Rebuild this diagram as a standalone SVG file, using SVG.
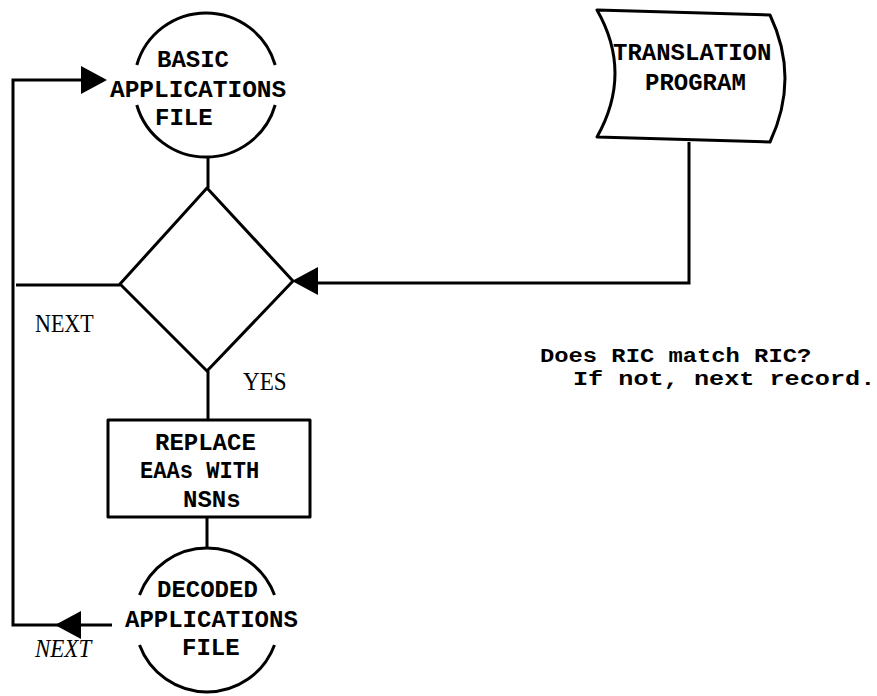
<svg xmlns="http://www.w3.org/2000/svg" width="877" height="696" viewBox="0 0 877 696">
<style>
  .shape { fill: none; stroke: #000; stroke-width: 3; stroke-linejoin: round; }
  .conn { fill: none; stroke: #000; stroke-width: 3; }
  .head { fill: #000; stroke: none; }
  .mono { font-family: "Liberation Mono", "Courier New", monospace; font-size: 24px; font-weight: bold; fill: #000; }
  .note { font-family: "Liberation Mono", "Courier New", monospace; font-size: 20px; font-weight: bold; fill: #000; }
  .serif { font-family: "Liberation Serif", "Times New Roman", serif; font-size: 22px; fill: #000; }
  .ital { font-family: "Liberation Serif", "Times New Roman", serif; font-size: 23px; font-style: italic; fill: #000; }
</style>
<defs>
  <path id="ah" d="M0,0 L-26,-14 L-26,14 Z"/>
</defs>
<rect width="877" height="696" fill="#fff"/>

<g id="connectors">
  <path class="conn" d="M112,625 H13 V80 H95"/>
  <use href="#ah" class="head" transform="translate(107,80)"/>
  <use href="#ah" class="head" transform="translate(55,625) rotate(180)"/>
  <path class="conn" d="M120,285 H16"/>
  <path class="conn" d="M208,157 V188"/>
  <path class="conn" d="M208,371 V420"/>
  <path class="conn" d="M207,517 V548"/>
  <path class="conn" d="M689,142 V283 H300"/>
  <use href="#ah" class="head" transform="translate(292,281) rotate(180)"/>
</g>

<g id="basic-applications-file">
  <path class="shape" d="M136.8,65 A72,72 0 0 1 275.2,65 M275.2,105 A72,72 0 0 1 136.8,105"/>
  <text class="mono" x="157" y="67">BASIC</text>
  <text class="mono" transform="translate(110,97) scale(1.02,1)">APPLICATIONS</text>
  <text class="mono" x="155" y="125">FILE</text>
</g>

<g id="translation-program">
  <path class="shape" d="M597,10 L770,15 Q800,78 770,142 L597,137 Q633,73 597,10 Z"/>
  <text class="mono" x="613" y="60">TRANSLATION</text>
  <text class="mono" x="645" y="90">PROGRAM</text>
</g>

<g id="decision">
  <path class="shape" d="M207,188 L293,281 L207,371 L120,284 Z"/>
  <text class="serif" transform="translate(35,332) scale(1,1.12)">NEXT</text>
  <text class="serif" transform="translate(243,390) scale(1.05,1.12)">YES</text>
</g>

<g id="note">
  <text class="note" transform="translate(540,362) scale(1.19,1)">Does RIC match RIC?</text>
  <text class="note" transform="translate(573,385) scale(1.26,1)">If not, next record.</text>
</g>

<g id="replace">
  <rect class="shape" x="108" y="420" width="202" height="97"/>
  <text class="mono" x="155" y="450">REPLACE</text>
  <text class="mono" transform="translate(140,478) scale(0.92,1)">EAAs WITH</text>
  <text class="mono" x="183" y="507">NSNs</text>
</g>

<g id="decoded-applications-file">
  <path class="shape" d="M139.5,595 A72,72 0 0 1 274.5,595 M274.5,645 A72,72 0 0 1 139.5,645"/>
  <text class="mono" x="157" y="597">DECODED</text>
  <text class="mono" x="125" y="627">APPLICATIONS</text>
  <text class="mono" x="182" y="655">FILE</text>
  <text class="ital" transform="translate(35,657) scale(1,1.1)">NEXT</text>
</g>
</svg>
